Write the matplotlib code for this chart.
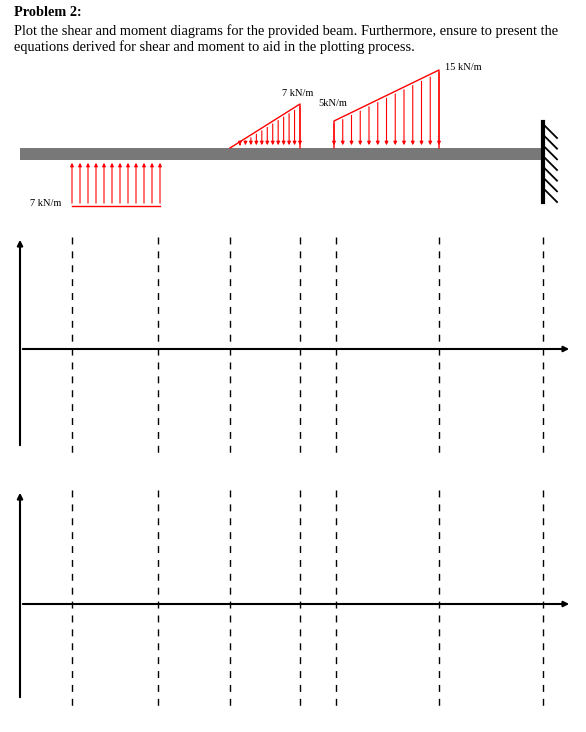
import matplotlib.pyplot as plt
import numpy as np

# beam geometry in picture pixels (x to the right, y downward)
beam_x = [20, 543]
dash_x = [72, 158, 230, 300, 336, 439, 543]

# loads: start/end x and the intensity shown
up_load_x = [72, 160]          # uniform 7 kN/m upward
tri_load_x = [230, 300]        # 0 -> 7 kN/m
trap_load_x = [334, 439]       # 5 -> 15 kN/m
labels = ["7 kN/m", "7 kN/m", "5kN/m", "15 kN/m"]

BEAM_TOP, BEAM_BOT = 148, 160
RED = "#ff0000"

fig = plt.figure(figsize=(5.86, 7.32), dpi=100)
ax = fig.add_axes([0, 0, 1, 1])
ax.set_xlim(0, 586)
ax.set_ylim(732, 0)
ax.axis("off")
plt.rcParams['font.family'] = ['Liberation Serif', 'DejaVu Serif']

ax.text(14, 12, "Problem 2:", fontsize=10.3, fontweight="bold", va="center")
ax.text(14, 31, "Plot the shear and moment diagrams for the provided beam. Furthermore, ensure to present the",
        fontsize=10.4, va="center")
ax.text(14, 47, "equations derived for shear and moment to aid in the plotting process.", fontsize=10.4, va="center")

# beam
ax.fill_between(beam_x, BEAM_TOP, BEAM_BOT, color="#787878", lw=0)

# fixed wall
ax.plot([543, 543], [122, 202], color="black", lw=3)
for y in np.linspace(126, 190, 7):
    ax.plot([545, 557], [y, y + 12], color="black", lw=1.3)

def arrow_down(x, ytop):
    ax.annotate("", xy=(x, BEAM_TOP), xytext=(x, ytop),
                arrowprops=dict(arrowstyle="-|>", color=RED, lw=0.8, mutation_scale=5))

# upward uniform load
ub = 206
ax.plot(up_load_x, [ub, ub], color=RED, lw=1)
for x in np.linspace(up_load_x[0], up_load_x[1], 12):
    ax.annotate("", xy=(x, BEAM_BOT), xytext=(x, ub),
                arrowprops=dict(arrowstyle="-|>", color=RED, lw=0.8, mutation_scale=5))
ax.text(30, ub - 2, labels[0], fontsize=7.5, va="center")

# triangular load
tt = 104
ax.plot([tri_load_x[0], tri_load_x[1], tri_load_x[1]], [BEAM_TOP, tt, BEAM_TOP], color=RED, lw=1)
for x in np.linspace(tri_load_x[0] + 10, tri_load_x[1], 12):
    yt = BEAM_TOP - (BEAM_TOP - tt) * (x - tri_load_x[0]) / (tri_load_x[1] - tri_load_x[0])
    arrow_down(x, yt)
ax.text(282, 93, labels[1], fontsize=7.5, va="center")

# trapezoidal load
t1, t2 = 121, 70
ax.plot([trap_load_x[0], trap_load_x[0], trap_load_x[1], trap_load_x[1]],
        [BEAM_TOP, t1, t2, BEAM_TOP], color=RED, lw=1)
for x in np.linspace(trap_load_x[0], trap_load_x[1], 13):
    yt = t1 + (t2 - t1) * (x - trap_load_x[0]) / (trap_load_x[1] - trap_load_x[0])
    arrow_down(x, yt)
ax.text(318, 104, labels[2], fontsize=7.5, va="center")
ax.text(445, 68, labels[3], fontsize=7.5, va="center")

# empty diagram axes
for top, mid, bot in [(237, 349, 448), (490, 604, 700)]:
    ax.annotate("", xy=(20, top), xytext=(20, bot),
                arrowprops=dict(arrowstyle="-|>", color="black", lw=1.5, mutation_scale=8))
    ax.annotate("", xy=(572, mid), xytext=(20, mid),
                arrowprops=dict(arrowstyle="-|>", color="black", lw=1.5, mutation_scale=8))
    for x in dash_x:
        ax.plot([x, x], [top, bot + 6], color="black", lw=1, ls=(0, (5, 5)))

fig.savefig("out.png", dpi=100)
